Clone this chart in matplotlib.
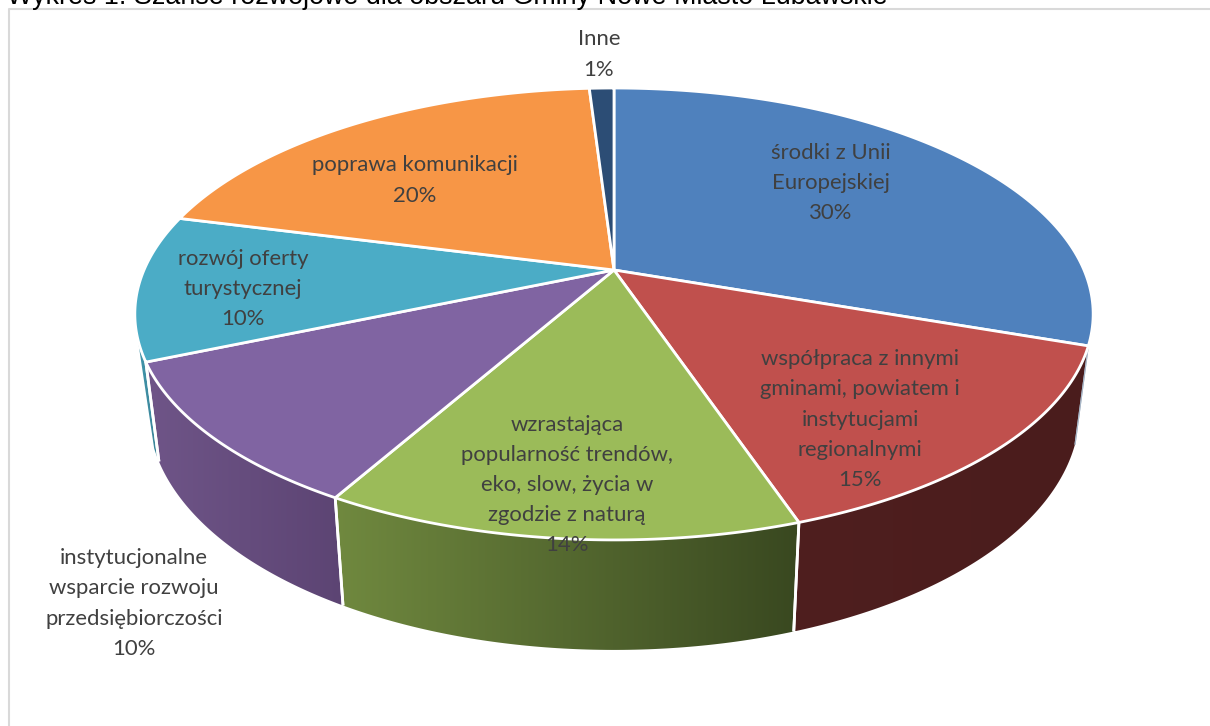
import numpy as np
import matplotlib
matplotlib.use('Agg')
import matplotlib.pyplot as plt
from matplotlib.patches import Polygon

categories = ['środki z Unii\nEuropejskiej', 'współpraca z innymi\ngminami, powiatem i\ninstytucjami\nregionalnymi',
              'wzrastająca\npopularność trendów,\neko, slow, życia w\nzgodzie z naturą',
              'instytucjonalne\nwsparcie rozwoju\nprzedsiębiorczości', 'rozwój oferty\nturystycznej',
              'poprawa komunikacji', 'Inne']
# shares, the printed labels are rounded
shares = [30.3, 14.5, 13.4, 10.4, 10.4, 20, 1]
percent_labels = ['30%', '15%', '14%', '10%', '10%', '20%', '1%']
colors = ['#4f81bd', '#c0504d', '#9bbb59', '#8064a2', '#4bacc6', '#f79646', '#2c4d75']
wall_left = ['#8fa6c0', '#4f1f1f', '#70893f', '#6f5588', '#4298ae', '#b06a30', '#1f3653']
wall_right = ['#8fa6c0', '#4a1c1c', '#394820', '#5c4473', '#3a8296', '#b06a30', '#1f3653']
label_pos = [(831, 183), (860, 419.5), (567, 485), (134, 603.5), (243, 289), (415, 180.5), (599, 54.5)]

# projection of the pie disc
cx, cy = 614, 270
a, b, k = 470, 217.4, 0.1946
depth_scale = 0.972


def rim(theta):
    u, v = np.sin(theta), np.cos(theta)
    w = 1 + k * v
    return cx + a * u / w, cy - b * v / w


def bottom_rim(theta):
    x, y = rim(theta)
    return cx + depth_scale * (x - cx), y + 92.5 - 17.5 * np.cos(theta)


fig = plt.figure(figsize=(12.10, 7.26), dpi=100)
ax = fig.add_axes([0, 0, 1, 1])
ax.set_xlim(0, 1210)
ax.set_ylim(726, 0)
ax.axis('off')

# frame of the chart, open to the right and bottom
ax.plot([8.5, 8.5, 1210], [726, 8.5, 8.5], color='#d9d9d9', lw=1.5, zorder=1)
ax.text(7, 3.5, 'Wykres 1. Szanse rozwojowe dla obszaru Gminy Nowe Miasto Lubawskie',
        fontsize=19.4, family='Liberation Sans', color='black', ha='left', va='baseline', zorder=5)

edges = np.radians(np.cumsum([0] + shares) * 3.6)
# the outermost slices close with a straight edge down to the bottom rim
low, high = edges[1], edges[4] + np.radians(3)

# side walls, only the front half is visible
for i in range(len(shares)):
    t0 = max(edges[i], np.radians(96))
    t1 = min(edges[i + 1], np.radians(257))
    if t1 <= t0:
        continue
    t = np.linspace(t0, t1, 80)
    xt, yt = rim(t)
    xb, yb = bottom_rim(np.clip(t, low, high))
    pts = np.column_stack([np.r_[xt, xb[::-1]], np.r_[yt, yb[::-1]]])
    poly = Polygon(pts, closed=True, facecolor='none', edgecolor='none', zorder=2)
    ax.add_patch(poly)
    x0, x1 = pts[:, 0].min(), pts[:, 0].max()
    grad = np.linspace(0, 1, 200)[None, :, None]
    c0 = np.array(matplotlib.colors.to_rgb(wall_left[i]))
    c1 = np.array(matplotlib.colors.to_rgb(wall_right[i]))
    img = ax.imshow(c0 + (c1 - c0) * grad, extent=[x0, x1, pts[:, 1].max(), pts[:, 1].min()],
                    aspect='auto', zorder=2, interpolation='bilinear')
    img.set_clip_path(poly)
    # white seams between the walls, the right silhouette only gets a thin grey line
    for edge in (t0, t1):
        if np.radians(97) < edge < np.radians(256):
            xa, ya = rim(edge)
            xc, yc = bottom_rim(edge)
            if edge == low:
                ax.plot([xa, xc], [ya, yc], color='#aab8c8', lw=0.8, zorder=3)
            else:
                ax.plot([xa, xc], [ya, yc], color='white', lw=2, zorder=3, solid_capstyle='butt')
ax.set_xlim(0, 1210)
ax.set_ylim(726, 0)

# top of the pie
for i in range(len(shares)):
    t = np.linspace(edges[i], edges[i + 1], 120)
    x, y = rim(t)
    pts = np.column_stack([np.r_[cx, x], np.r_[cy, y]])
    ax.add_patch(Polygon(pts, closed=True, facecolor=colors[i], edgecolor='white', lw=2,
                         joinstyle='round', zorder=4))

for name, pct, (lx, ly) in zip(categories, percent_labels, label_pos):
    ax.text(lx, ly, name + '\n' + pct, ha='center', va='center', fontsize=15.9, family='Lato',
            color='#404040', linespacing=1.64, zorder=6)

fig.savefig('out.png', dpi=100)
